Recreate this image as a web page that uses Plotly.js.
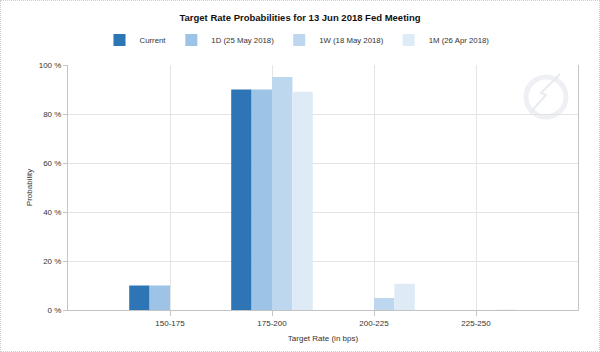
<!DOCTYPE html>
<html>
<head>
<meta charset="utf-8">
<script src="https://cdn.plot.ly/plotly-3.0.1.min.js"></script>
<style>
  html, body { margin: 0; padding: 0; background: #fff; }
  #wrap { position: relative; width: 600px; height: 352px; }
  #chart { width: 600px; height: 352px; }
  #frame { position: absolute; left: 0; top: 0; width: 598px; height: 350px;
           border: 1px dotted #cfcfcf; pointer-events: none; }
</style>
</head>
<body>
<div id="wrap"><div id="chart"></div><div id="frame"></div></div>
<script>
// Data
const categories = ["150-175", "175-200", "200-225", "225-250"];
const seriesNames = ["Current", "1D (25 May 2018)", "1W (18 May 2018)", "1M (26 Apr 2018)"];
const current = [10.0, 90.0, 0, 0];
const oneDay = [10.0, 90.0, 0, 0];
const oneWeek = [0, 95.1, 4.9, 0];
const oneMonth = [0, 89.1, 10.7, 0.2];
const yTicks = [0, 20, 40, 60, 80, 100];
const yTickLabels = ["0 %", "20 %", "40 %", "60 %", "80 %", "100 %"];

const colors = ["#2e75b6", "#9dc3e6", "#bdd7ee", "#deebf7"];
const values = [current, oneDay, oneWeek, oneMonth];

const traces = values.map((v, i) => ({
  type: "bar",
  name: seriesNames[i],
  x: categories,
  y: v,
  marker: { color: colors[i], line: { width: 0 } },
  hoverinfo: "x+y+name"
}));

const font = { family: "Liberation Sans, Arial, sans-serif", size: 8, color: "#333" };

const layout = {
  width: 600, height: 352,
  margin: { l: 68, r: 22, t: 65, b: 42 },
  paper_bgcolor: "#fff", plot_bgcolor: "#fff",
  font: font,
  title: {
    text: "<b>Target Rate Probabilities for 13 Jun 2018 Fed Meeting</b>",
    font: { family: "Liberation Sans Narrow, Arial Narrow, Liberation Sans, sans-serif", size: 9.5, color: "#111" },
    x: 0.5, xref: "container", xanchor: "center",
    y: 1 - 17.5 / 352, yref: "container", yanchor: "middle"
  },
  showlegend: true,
  legend: {
    orientation: "h", x: 0.495, xref: "container", xanchor: "center",
    y: 1 - 40 / 352, yref: "container", yanchor: "middle",
    font: { family: "Liberation Sans, Arial, sans-serif", size: 7.8, color: "#333" },
    itemwidth: 30, traceorder: "normal"
  },
  barmode: "group",
  bargap: 0.2,
  bargroupgap: 0,
  xaxis: {
    type: "category",
    range: [-1, 4],
    showgrid: true, gridcolor: "#e4e4e4", gridwidth: 1,
    showline: true, linecolor: "#c4c4c4", linewidth: 1,
    ticks: "outside", ticklen: 5, tickcolor: "#c4c4c4",
    tickfont: { size: 8, color: "#333" },
    title: { text: "Target Rate (in bps)", font: { size: 8, color: "#333" }, standoff: 8 },
    zeroline: false, fixedrange: true
  },
  yaxis: {
    range: [0, 100],
    tickvals: yTicks, ticktext: yTickLabels,
    showgrid: true, gridcolor: "#e4e4e4", gridwidth: 1,
    showline: true, linecolor: "#c4c4c4", linewidth: 1, mirror: true,
    ticks: "outside", ticklen: 4, tickcolor: "#c4c4c4",
    tickfont: { size: 8, color: "#333" },
    title: { text: "Probability", font: { size: 8, color: "#333" }, standoff: 4 },
    zeroline: false, fixedrange: true
  },
  shapes: [
    { type: "circle", xref: "paper", yref: "paper",
      x0: (526 - 68) / 510, x1: (566 - 68) / 510,
      y0: (310 - 117) / 245, y1: (310 - 77) / 245,
      line: { color: "#eef0f4", width: 5 }, layer: "below" },
    { type: "path", xref: "paper", yref: "paper",
      path: "M " + ((530 - 68) / 510) + "," + ((310 - 113) / 245) +
            " L " + ((546 - 68) / 510) + "," + ((310 - 95) / 245) +
            " L " + ((541 - 68) / 510) + "," + ((310 - 93) / 245) +
            " L " + ((560 - 68) / 510) + "," + ((310 - 74) / 245),
      line: { color: "#e8ebf0", width: 2 }, layer: "below" }
  ]
};

Plotly.newPlot("chart", traces, layout, { displayModeBar: false, staticPlot: true });
</script>
</body>
</html>
